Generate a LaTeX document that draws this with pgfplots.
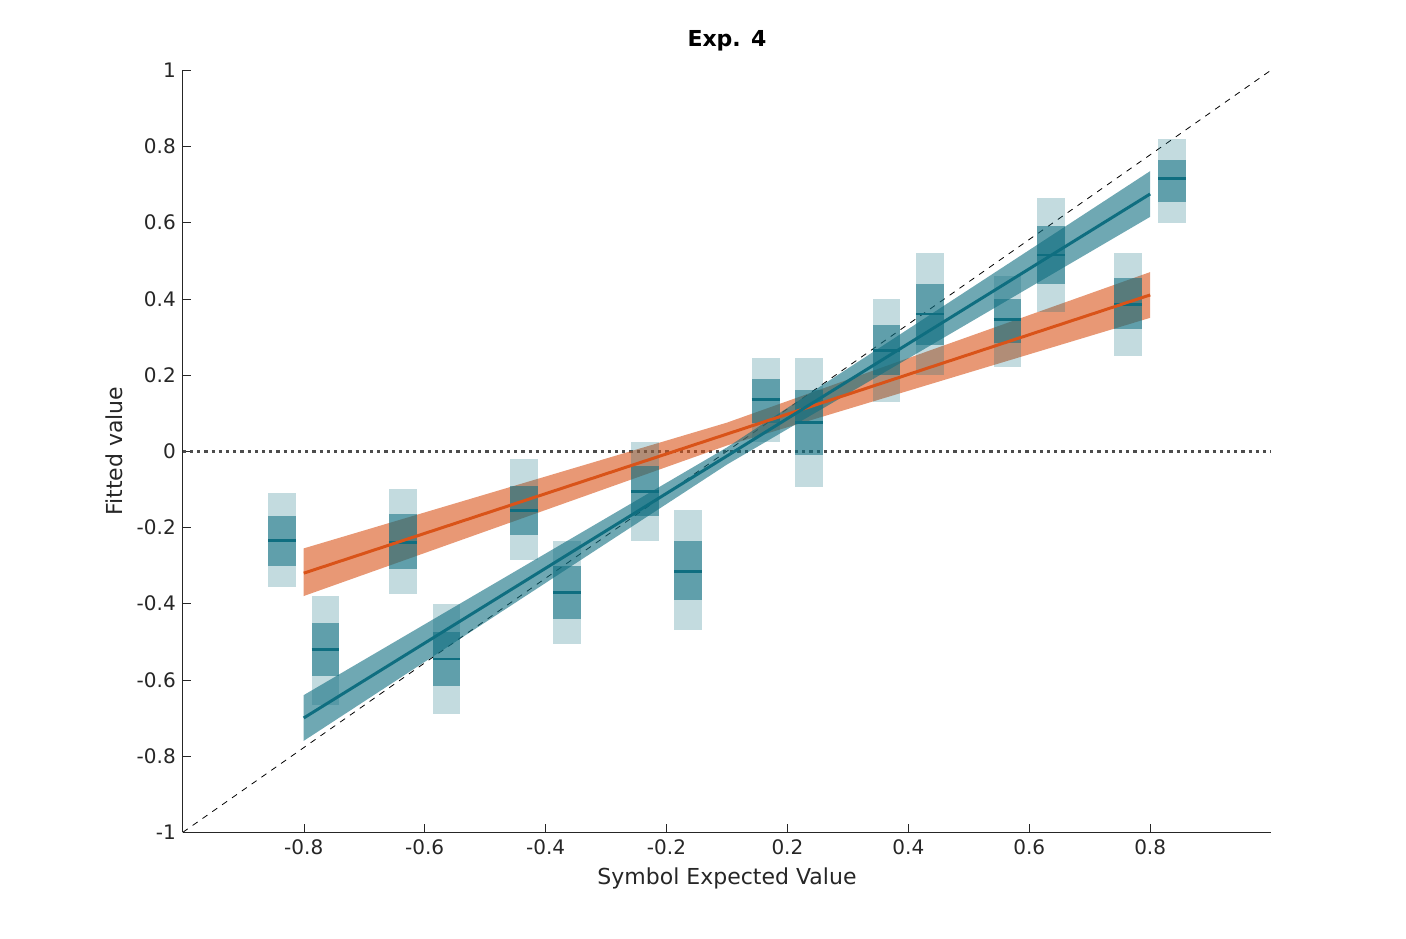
\documentclass[border=0pt]{standalone}
\usepackage{pgfplots}
\pgfplotsset{compat=1.18}
\usepackage{fontspec}
\setmainfont{DejaVu Sans}
\definecolor{orl}{HTML}{D95319}
\definecolor{tel}{HTML}{0F6E80}
\definecolor{txt}{HTML}{262626}
\newcommand\bx[7]{% xl xr olo ohi ilo ihi mean ; color via \curcol
 \addplot[draw=none,fill=\curcol,fill opacity=0.25] coordinates {(#1,#3)(#2,#3)(#2,#4)(#1,#4)} --cycle;
 \addplot[draw=none,fill=\curcol,fill opacity=0.55] coordinates {(#1,#5)(#2,#5)(#2,#6)(#1,#6)} --cycle;
 \addplot[\curcol,line width=1.4pt] coordinates {(#1,#7)(#2,#7)};}
\begin{document}
\begin{tikzpicture}
\begin{axis}[scale only axis,width=544pt,height=381pt,
 xmin=0,xmax=9,ymin=-1,ymax=1,
 axis lines*=left, axis line style={txt},
 xtick={1,...,8},xticklabels={-0.8,-0.6,-0.4,-0.2,0.2,0.4,0.6,0.8},
 ytick={-1,-0.8,...,1.01},
 yticklabels={-1,-0.8,-0.6,-0.4,-0.2,0,0.2,0.4,0.6,0.8,1},
 tick style={txt},tick label style={font=\fontsize{10}{12}\selectfont,text=txt},
 /pgf/number format/assume math mode=true,
 xlabel={Symbol Expected Value},ylabel={Fitted value},
 label style={font=\fontsize{11}{13}\selectfont,text=txt},
 title={\textbf{Exp. 4}},title style={font=\fontsize{11}{13}\selectfont},
 clip=false]
\path (rel axis cs:-0.168,-0.139) rectangle (rel axis cs:1.124,1.092);
\addplot[black,dashed,thin] coordinates {(0,-1)(9,1)};
\addplot[black!70,dotted,line width=1.6pt] coordinates {(0,0)(9,0)};
% fit bands
\addplot[draw=none,fill=orl,fill opacity=0.6] coordinates {(1,-0.38)(4.5,0.015)(8,0.35)(8,0.47)(4.5,0.075)(1,-0.255)} --cycle;
\addplot[draw=none,fill=tel,fill opacity=0.6] coordinates {(1,-0.76)(4.5,-0.035)(8,0.615)(8,0.735)(4.5,0.01)(1,-0.64)} --cycle;
\def\curcol{orl}
\bx{0.705}{0.935}{-0.355}{-0.11}{-0.30}{-0.17}{-0.235}
\bx{1.705}{1.935}{-0.375}{-0.10}{-0.31}{-0.165}{-0.24}
\bx{2.705}{2.935}{-0.285}{-0.02}{-0.22}{-0.09}{-0.155}
\bx{3.705}{3.935}{-0.235}{0.025}{-0.17}{-0.04}{-0.105}
\bx{4.705}{4.935}{0.025}{0.245}{0.075}{0.19}{0.135}
\bx{5.705}{5.935}{0.13}{0.40}{0.20}{0.33}{0.265}
\bx{6.705}{6.935}{0.22}{0.46}{0.285}{0.40}{0.345}
\bx{7.705}{7.935}{0.25}{0.52}{0.32}{0.455}{0.385}
\def\curcol{tel}
\bx{1.065}{1.295}{-0.665}{-0.38}{-0.59}{-0.45}{-0.52}
\bx{2.065}{2.295}{-0.69}{-0.40}{-0.615}{-0.475}{-0.545}
\bx{3.065}{3.295}{-0.505}{-0.235}{-0.44}{-0.30}{-0.37}
\bx{4.065}{4.295}{-0.47}{-0.155}{-0.39}{-0.235}{-0.315}
\bx{5.065}{5.295}{-0.095}{0.245}{-0.01}{0.16}{0.075}
\bx{6.065}{6.295}{0.20}{0.52}{0.28}{0.44}{0.36}
\bx{7.065}{7.295}{0.365}{0.665}{0.44}{0.59}{0.515}
\bx{8.065}{8.295}{0.60}{0.82}{0.655}{0.765}{0.715}
\addplot[orl,line width=1.5pt] coordinates {(1,-0.32)(8,0.41)};
\addplot[tel,line width=1.5pt] coordinates {(1,-0.70)(8,0.675)};
\end{axis}
\end{tikzpicture}
\end{document}
